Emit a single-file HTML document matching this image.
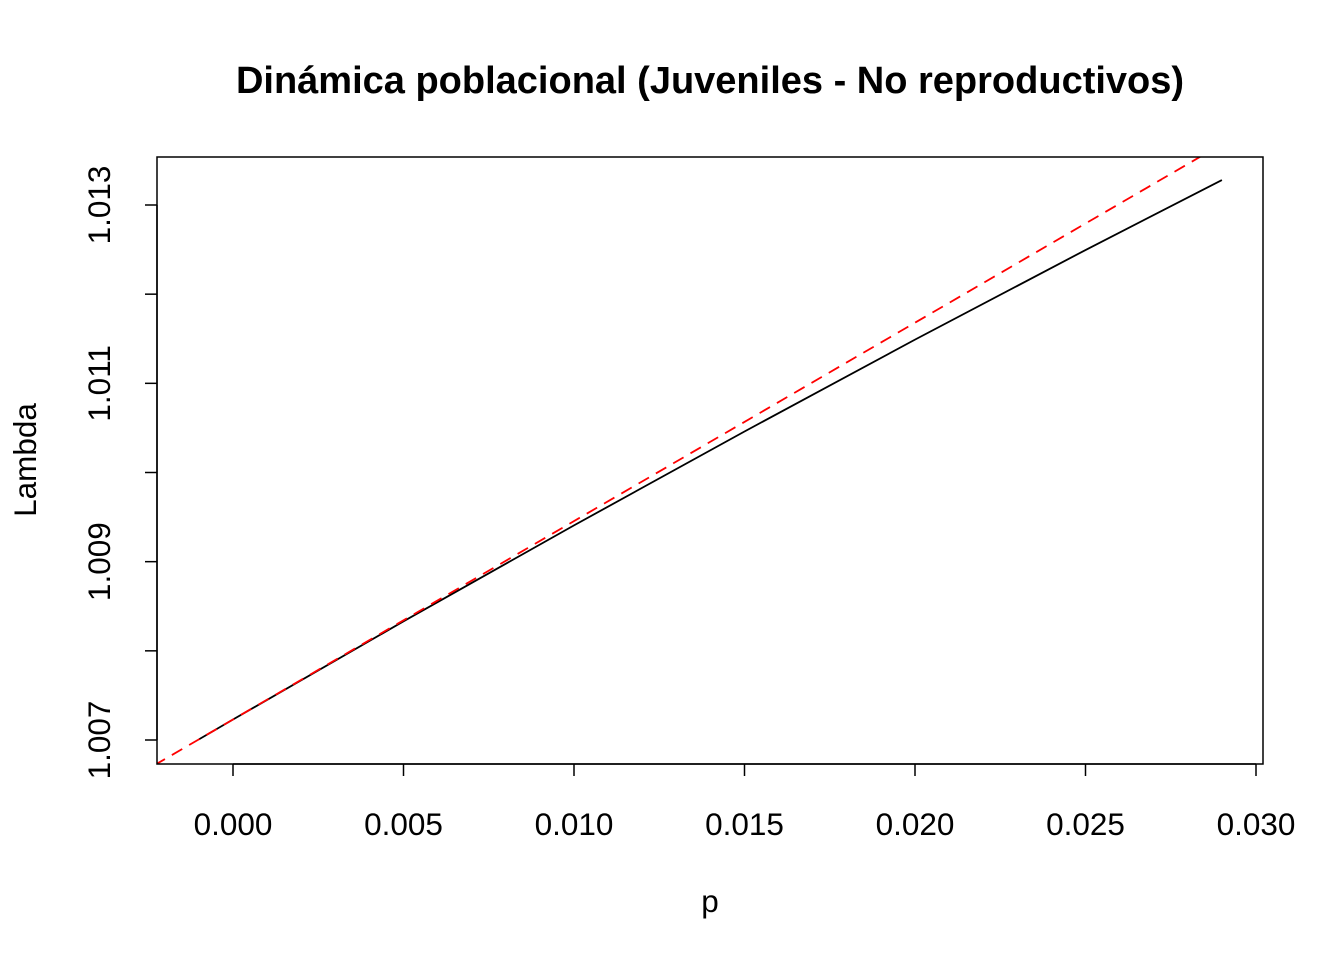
<!DOCTYPE html>
<html><head><meta charset="utf-8"><style>
html,body{margin:0;background:#fff;width:1344px;height:960px;overflow:hidden}
svg{display:block}
svg text{font-family:"Liberation Sans",Arial,sans-serif;fill:#000}
</style></head><body>
<svg id="chart" width="1344" height="960">
<text x="710" y="93" font-size="38" font-weight="bold" text-anchor="middle">Dinámica poblacional (Juveniles - No reproductivos)</text>
<text x="710" y="912" font-size="31.5" text-anchor="middle">p</text>
<text transform="translate(36,460) rotate(-90)" font-size="31.5" text-anchor="middle">Lambda</text>
<defs><clipPath id="pc"><rect x="157" y="157" width="1106" height="607"/></clipPath></defs>
<g id="axes"></g>
<g id="series"></g>
<rect x="157" y="157" width="1106" height="607" fill="none" stroke="#000" stroke-width="1.5"/>
</svg>
<script>
const pVals=[-0.001,0.000,0.005,0.010,0.015,0.020,0.025,0.029];
const lambdaVals=[1.007007,1.00723,1.008331,1.009407,1.010460,1.011490,1.012495,1.01328];
const tangentIntercept=1.00723;
const tangentSlope=0.2225;
const xTicks=[0.000,0.005,0.010,0.015,0.020,0.025,0.030];
const xTickLabels=["0.000","0.005","0.010","0.015","0.020","0.025","0.030"];
const yTicks=[1.007,1.008,1.009,1.010,1.011,1.012,1.013];
const yTickLabels=["1.007","","1.009","","1.011","","1.013"];
const L=157,R=1263,T=157,B=764;
const sx=v=>233+(v-0)*(1256-233)/0.030;
const sy=v=>740-(v-1.007)*(740-205)/0.006;
const NS="http://www.w3.org/2000/svg";
const axes=document.getElementById('axes'),series=document.getElementById('series');
function mk(tag,attrs,parent){const e=document.createElementNS(NS,tag);for(const k in attrs)e.setAttribute(k,attrs[k]);parent.appendChild(e);return e;}
const xl=mk('line',{x1:sx(xTicks[0]),x2:sx(xTicks[xTicks.length-1]),y1:B,y2:B,stroke:'#000','stroke-width':1.5},axes);


xTicks.forEach((t,i)=>{
 const l=mk('line',{x1:sx(t),x2:sx(t),y1:B,y2:B+12,stroke:'#000','stroke-width':1.5},axes);
 
 
 const tx=mk('text',{x:sx(t),y:B+71,'font-size':31.5,'text-anchor':'middle'},axes);
 tx.textContent=xTickLabels[i];
 
 
});
const yl=mk('line',{x1:L,x2:L,y1:sy(yTicks[0]),y2:sy(yTicks[yTicks.length-1]),stroke:'#000','stroke-width':1.5},axes);


yTicks.forEach((t,i)=>{
 const l=mk('line',{x1:L-12,x2:L,y1:sy(t),y2:sy(t),stroke:'#000','stroke-width':1.5},axes);
 
 
 if(yTickLabels[i]){
  const tx=mk('text',{transform:`translate(${L-47},${sy(t)}) rotate(-90)`,'font-size':31.5,'text-anchor':'middle'},axes);
  tx.textContent=yTickLabels[i];
  
  
 }
});
const pts=pVals.map((p,i)=>sx(p)+','+sy(lambdaVals[i])).join(' ');
const pl=mk('polyline',{points:pts,fill:'none',stroke:'#000','stroke-width':1.8},series);


const pLeft=-0.0023,pRight=0.032;
const tl=mk('line',{x1:sx(pLeft),y1:sy(tangentIntercept+tangentSlope*pLeft),x2:sx(pRight),y2:sy(tangentIntercept+tangentSlope*pRight),stroke:'#f00','stroke-width':1.8,'stroke-dasharray':'12,8','clip-path':'url(#pc)'},series);


</script>
</body></html>
